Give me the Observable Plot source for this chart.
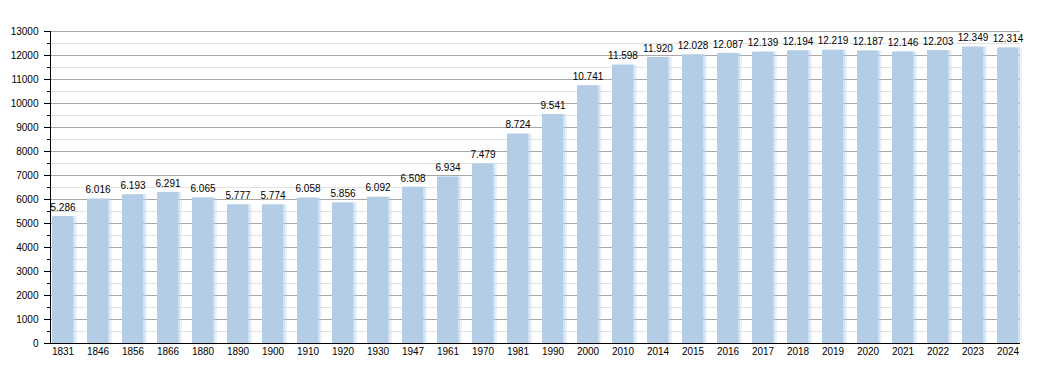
<!DOCTYPE html>
<html><head><meta charset="utf-8">
<script src="https://cdn.jsdelivr.net/npm/d3@7"></script>
<script src="https://cdn.jsdelivr.net/npm/@observablehq/plot@0.6"></script>
<style>body{margin:0;background:#fff}</style>
</head><body><div id="chart"></div>
<script>
const years = ["1831","1846","1856","1866","1880","1890","1900","1910","1920","1930","1947","1961","1970","1981","1990","2000","2010","2014","2015","2016","2017","2018","2019","2020","2021","2022","2023","2024"];
const population = [5286,6016,6193,6291,6065,5777,5774,6058,5856,6092,6508,6934,7479,8724,9541,10741,11598,11920,12028,12087,12139,12194,12219,12187,12146,12203,12349,12314];
const majorTicks = [0,1000,2000,3000,4000,5000,6000,7000,8000,9000,10000,11000,12000,13000];
const minorTicks = [500,1500,2500,3500,4500,5500,6500,7500,8500,9500,10500,11500,12500];

const fmt = v => d3.format(",")(v).replace(/,/g, ".");
const data = years.map((y, i) => ({year: y, pop: population[i], label: fmt(population[i])}));
const barColor = "#b3cde6";

const axisLines = (index, scales, values, dims) => {
  const g = d3.create("svg:g");
  g.append("line")
    .attr("x1", dims.marginLeft + 0.5).attr("x2", dims.marginLeft + 0.5)
    .attr("y1", dims.marginTop).attr("y2", dims.height - dims.marginBottom)
    .attr("stroke", "#000");
  return g.node();
};

const chart = Plot.plot({
  width: 1050, height: 373,
  marginLeft: 50, marginRight: 30, marginTop: 31, marginBottom: 30,
  style: {fontFamily: "'Liberation Sans', Arial, sans-serif", fontSize: "10px", background: "#fff", color: "#000"},
  x: {type: "band", domain: years, paddingInner: 0.4, paddingOuter: 0, label: null},
  y: {domain: [0, 13000], label: null},
  marks: [
    Plot.ruleY(minorTicks, {stroke: "#e2e2e2"}),
    Plot.ruleY(majorTicks, {stroke: "#a8a8a8"}),
    Plot.barY(data, {x: "year", y: "pop", fill: barColor, fillOpacity: 0.25, dx: 4}),
    Plot.barY(data, {x: "year", y: "pop", fill: barColor, fillOpacity: 0.45, dx: 2}),
    Plot.barY(data, {x: "year", y: "pop", fill: barColor}),
    Plot.text(data, {x: "year", y: "pop", text: "label", dy: -9, fill: "#000", fontSize: 10}),
    Plot.axisY(majorTicks, {tickSize: 6, tickPadding: 6, tickFormat: d => String(d), label: null, stroke: "#000"}),
    Plot.axisY(minorTicks, {tickSize: 3, tickFormat: () => "", label: null, stroke: "#000"}),
    Plot.axisX({tickSize: 0, tickPadding: 4, label: null}),
    Plot.ruleY([0], {stroke: "#000"}),
    axisLines
  ]
});
document.getElementById("chart").append(chart);
</script>
</body></html>
